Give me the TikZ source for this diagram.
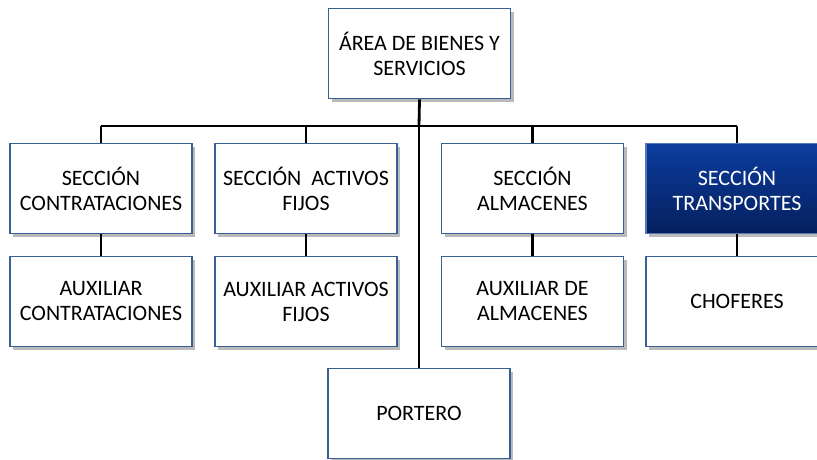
\documentclass[tikz,border=0pt]{standalone}
\usepackage{fontspec}
\setmainfont{Carlito}
\usetikzlibrary{shadows}
\definecolor{boxline}{HTML}{3A5F94}
\definecolor{topblue}{HTML}{0B3C9E}
\definecolor{botblue}{HTML}{06205E}
\tikzset{
  orgbox/.style={draw=boxline, line width=1.6pt, fill=white, minimum width=182pt, minimum height=90pt,
    align=center, inner sep=0pt, font=\fontsize{22}{25}\selectfont,
    drop shadow={shadow xshift=3pt, shadow yshift=-3pt, fill=black!45, opacity=0.6}},
  hibox/.style={orgbox, draw=topblue!70, top color=topblue, bottom color=botblue, text=white},
  link/.style={line width=2.8pt, black}
}
\begin{document}
\begin{tikzpicture}[x=1pt,y=1pt]
\useasboundingbox (0,0) rectangle (817,-459);
\clip (0,0) rectangle (817,-459);
\fill[white] (0,0) rectangle (817,-459);
\coordinate (busL) at (101,-126);
\coordinate (busR) at (737,-126);
\coordinate (busC) at (419,-126);
\node[orgbox] (top) at (419.5,-53.5) {ÁREA DE BIENES Y\\SERVICIOS};
\node[orgbox] (s1) at (101,-188.5) {SECCIÓN\\CONTRATACIONES};
\node[orgbox] (s2) at (306,-188.5) {SECCIÓN\ \ ACTIVOS\\FIJOS};
\node[orgbox] (s3) at (532.5,-188.5) {SECCIÓN\\ALMACENES};
\node[hibox] (s4) at (737,-188.5) {SECCIÓN\\TRANSPORTES};
\node[orgbox] (a1) at (101,-301.5) {AUXILIAR\\CONTRATACIONES};
\node[orgbox] (a2) at (306,-301.5) {AUXILIAR ACTIVOS\\FIJOS};
\node[orgbox] (a3) at (532.5,-301.5) {AUXILIAR DE\\ALMACENES};
\node[orgbox] (a4) at (737,-301.5) {CHOFERES};
\node[orgbox] (p) at (419,-413.5) {PORTERO};
\draw[link] (busL) -- (busR);
\draw[link] (top.south) -- (busC);
\draw[link] (busC) -- (p.north);
\draw[link] (busL) -- (s1.north);
\draw[link] (s2.north |- busL) -- (s2.north);
\draw[link] (s3.north |- busL) -- (s3.north);
\draw[link] (busR) -- (s4.north);
\draw[link] (s1.south) -- (a1.north);
\draw[link] (s2.south) -- (a2.north);
\draw[link] (s3.south) -- (a3.north);
\draw[link] (s4.south) -- (a4.north);
\end{tikzpicture}
\end{document}
